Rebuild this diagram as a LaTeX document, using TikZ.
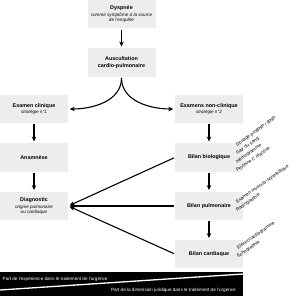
\documentclass[tikz,border=0pt]{standalone}
\usepackage{fontspec}
\setmainfont{Liberation Sans}
\usetikzlibrary{arrows.meta}
\tikzset{
    box/.style={fill=black!7, minimum width=68pt, minimum height=28.5pt,
        inner sep=1pt, align=center, font=\fontsize{5.4}{6.4}\selectfont\bfseries},
    arr/.style={-{Stealth[length=5pt,width=4.5pt]}, line width=1.1pt,
        shorten >=1.5pt, shorten <=1pt},
    side/.style={rotate=35, anchor=west, inner sep=0pt,
        font=\fontsize{4.7}{5.5}\selectfont},
    band/.style={white, inner sep=0pt, font=\fontsize{4.6}{5.5}\selectfont}
}
\newcommand{\subline}[1]{{\fontsize{4.6}{5.4}\selectfont\mdseries\itshape #1}}

\begin{document}
\begin{tikzpicture}[x=1pt, y=-1pt]
        \useasboundingbox (0,0) rectangle (297,300);
        % Draw boxes
        \node[box] (dyspnee) at (121.5,14.2)
            {Dyspnée\\[0.3pt]\subline{comme symptôme à la source}\\[-1.2pt]\subline{de l'enquête}};
        \node[box] (auscult) at (121.5,62.5) {Auscultation\\cardio-pulmonaire};
        \node[box] (exclin) at (34,109) {Examen clinique\\\subline{stratégie n°1}};
        \node[box] (exnonclin) at (209,109) {Examens non-clinique\\\subline{stratégie n°2}};
        \node[box] (anamnese) at (34,157.5) {Anamnèse};
        \node[box] (diagnostic) at (34,206)
            {Diagnostic\\[0.3pt]\subline{origine pulmonaire}\\[-1.2pt]\subline{ou cardiaque}};
        \node[box] (bilbio) at (209,157.5) {Bilan biologique};
        \node[box] (bilpulm) at (209,206) {Bilan pulmonaire};
        \node[box] (bilcard) at (209,254) {Bilan cardiaque};
        % Side notes, one line at a time
        \foreach \txt [count=\i] in {Dosage proBNP / BNP, Gaz du sang, Hémogramme, Protéine C réactive}
            \node[side] (bio\i) at (236.5,{137+8.4*\i}) {\txt};
        \foreach \txt [count=\i] in {Examen musculo-squelettique, Radiographie}
            \node[side] (pulm\i) at (236.5,{194+8.3*\i}) {\txt};
        \foreach \txt [count=\i] in {Electrocardiogramme, Echographie}
            \node[side] (card\i) at (237.5,{240+8.5*\i}) {\txt};
        % Draw arrows
        \draw[arr] (dyspnee) -- (auscult);
        \draw[arr] (auscult.south) to[out=-90, in=0] (exclin.east);
        \draw[arr] (auscult.south) to[out=-90, in=180] (exnonclin.west);
        \draw[arr] (exclin) -- (anamnese);
        \draw[arr] (anamnese) -- (diagnostic);
        \draw[arr] (exnonclin) -- (bilbio);
        \draw[arr] (bilbio) -- (bilpulm);
        \draw[arr] (bilpulm) -- (bilcard);
        \draw[arr] (bilbio.west) -- (diagnostic.east);
        \draw[arr] (bilpulm.west) -- (diagnostic.east);
        \draw[arr] (bilcard.west) -- (diagnostic.east);
        % Bottom band
        \fill[black] (0,272) rectangle (243,296);
        \draw[white, line width=1.3pt] (0,290) -- (243,274);
        \node[band, anchor=west] (exper) at (2.5,279)
            {Part de l'expérience dans le traitement de l'urgence};
        \node[band, anchor=east] (jurid) at (236,290.5)
            {Part de la dimension juridique dans le traitement de l'urgence};
    \end{tikzpicture}
\end{document}
